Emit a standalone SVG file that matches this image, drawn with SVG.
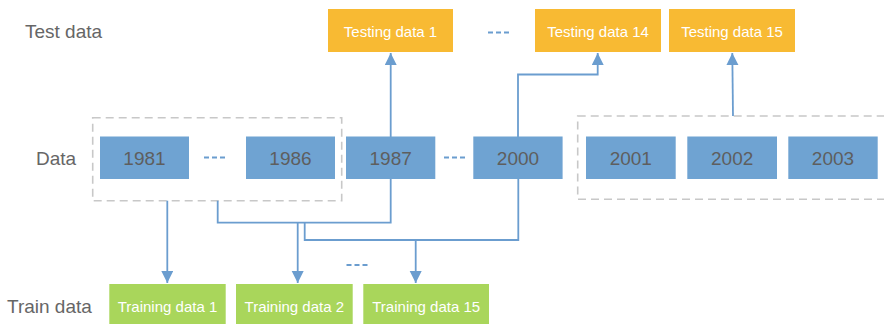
<svg xmlns="http://www.w3.org/2000/svg" width="884" height="324" viewBox="0 0 884 324">
<style>
.lbl{font-family:"Liberation Sans",Arial,sans-serif;font-size:19px;fill:#666666}
.yr rect{fill:#6FA3D2}
.yr text{font-family:"Liberation Sans",Arial,sans-serif;font-size:19px;fill:#5E5E5E;text-anchor:middle}
.ts rect{fill:#F8BA33}
.tr rect{fill:#A9D65B}
.ts text,.tr text{font-family:"Liberation Sans",Arial,sans-serif;font-size:15px;fill:#FFFFFF;text-anchor:middle}
.grp{fill:none;stroke:#C8C8C8;stroke-width:1.6;stroke-dasharray:8 5}
.con{fill:none;stroke:#6B9DCF;stroke-width:1.8}
.arr{marker-end:url(#ah)}
.dots{stroke:#6B9DCF;stroke-width:2.2;stroke-dasharray:5 3}
</style>
<defs>
<marker id="ah" markerUnits="userSpaceOnUse" markerWidth="13" markerHeight="13" refX="12" refY="6" orient="auto">
<path d="M0,0 L12,6 L0,12 Z" fill="#6B9DCF"/>
</marker>
</defs>
<rect width="884" height="324" fill="#FFFFFF"/>

<text class="lbl" x="25" y="38">Test data</text>
<text class="lbl" x="36" y="165">Data</text>
<text class="lbl" x="7" y="313">Train data</text>

<g id="group-1981-1986"><rect class="grp" x="92.7" y="117.7" width="249" height="83"/></g>
<g id="group-2001-2003"><rect class="grp" x="577.7" y="116" width="320" height="83.3"/></g>

<g id="connectors">
<path class="con arr" d="M390.7,137 V53"/>
<path class="con arr" d="M518,137 V74.5 H597.7 V53"/>
<path class="con arr" d="M733,116 L732.3,53"/>
<path class="con arr" d="M167.3,200.7 V283"/>
<path class="con" d="M217.7,200.7 V222.7 H390.7 V178"/>
<path class="con arr" d="M297.7,222.7 V283"/>
<path class="con" d="M304.7,222.7 V240 H518.3 V178"/>
<path class="con arr" d="M415.7,240 V283"/>
</g>

<g id="ellipses">
<line class="dots" x1="488" y1="32.5" x2="509" y2="32.5"/>
<line class="dots" x1="204" y1="157.5" x2="225" y2="157.5"/>
<line class="dots" x1="444" y1="157.5" x2="465" y2="157.5"/>
<line class="dots" x1="346.5" y1="265" x2="367.5" y2="265"/>
</g>

<g id="y1981" class="yr"><rect x="100" y="136.5" width="89" height="42.5"/><text x="144.5" y="165">1981</text></g>
<g id="y1986" class="yr"><rect x="246" y="136.5" width="89" height="42.5"/><text x="290.5" y="165">1986</text></g>
<g id="y1987" class="yr"><rect x="346" y="136.5" width="89.3" height="42.5"/><text x="390.7" y="165">1987</text></g>
<g id="y2000" class="yr"><rect x="473.3" y="136.5" width="89.3" height="42.5"/><text x="518" y="165">2000</text></g>
<g id="y2001" class="yr"><rect x="586" y="136.5" width="89.7" height="42.5"/><text x="630.8" y="165">2001</text></g>
<g id="y2002" class="yr"><rect x="687.3" y="136.5" width="89.7" height="42.5"/><text x="732.2" y="165">2002</text></g>
<g id="y2003" class="yr"><rect x="788.3" y="136.5" width="89.4" height="42.5"/><text x="833" y="165">2003</text></g>

<g id="test1" class="ts"><rect x="328" y="9" width="125" height="43"/><text x="390.5" y="36.5">Testing data 1</text></g>
<g id="test14" class="ts"><rect x="535" y="9" width="126" height="43"/><text x="598" y="36.5">Testing data 14</text></g>
<g id="test15" class="ts"><rect x="669" y="9" width="126" height="43"/><text x="732" y="36.5">Testing data 15</text></g>

<g id="train1" class="tr"><rect x="109.3" y="284" width="116.4" height="40"/><text x="167.5" y="312">Training data 1</text></g>
<g id="train2" class="tr"><rect x="236" y="284" width="116.7" height="40"/><text x="294.3" y="312">Training data 2</text></g>
<g id="train15" class="tr"><rect x="363.3" y="284" width="125.7" height="40"/><text x="426.2" y="312">Training data 15</text></g>
</svg>
